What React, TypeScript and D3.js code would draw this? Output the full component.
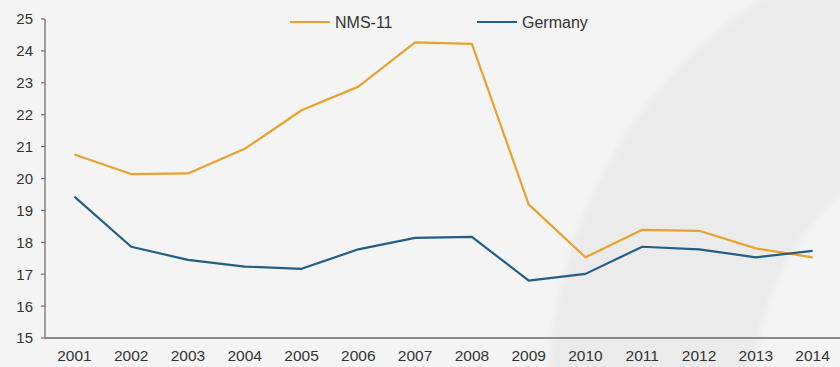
import React from "react";
import * as d3 from "d3";

const years = ["2001","2002","2003","2004","2005","2006","2007","2008","2009","2010","2011","2012","2013","2014"];
const nms11 = [20.75, 20.14, 20.16, 20.93, 22.14, 22.88, 24.27, 24.22, 19.19, 17.53, 18.39, 18.36, 17.81, 17.53];
const germany = [19.43, 17.86, 17.45, 17.24, 17.17, 17.78, 18.14, 18.17, 16.8, 17.01, 17.86, 17.78, 17.53, 17.73];
const yTicks = [15, 16, 17, 18, 19, 20, 21, 22, 23, 24, 25];
const seriesNames = ["NMS-11", "Germany"];

const W = 840, H = 367;
const ORANGE = "#E9A22F";
const BLUE = "#235E86";
const FONT = "'Liberation Sans', Arial, sans-serif";

export default function App() {
  const x = d3.scalePoint<string>().domain(years).range([46, 841]).padding(0.5);
  const y = d3.scaleLinear().domain([15, 25]).range([338, 19]);
  const line = d3.line<number>().x((_, i) => x(years[i]) as number).y((d) => y(d));
  const series = [
    { name: seriesNames[0], values: nms11, color: ORANGE },
    { name: seriesNames[1], values: germany, color: BLUE },
  ];
  const ring = d3.arc()({ innerRadius: 267, outerRadius: 471, startAngle: 0, endAngle: Math.PI * 2 }) as string;
  const legend = [
    { name: seriesNames[0], color: ORANGE, x0: 290 },
    { name: seriesNames[1], color: BLUE, x0: 477 },
  ];
  return (
    <div style={{ position: "fixed", left: 0, top: 0 }}>
      <svg width={W} height={H} style={{ display: "block" }} fontFamily={FONT}>
        <defs>
          <filter id="blur" x="-10%" y="-10%" width="120%" height="120%">
            <feGaussianBlur stdDeviation="3" />
          </filter>
        </defs>
        <rect width={W} height={H} fill="#f4f4f4" />
        <path d={ring} transform="translate(1020,392)" fill="#ebebeb" filter="url(#blur)" />
        {/* left axis */}
        <line x1={45} x2={45} y1={y(25)} y2={339} stroke="#6f6f6f" strokeWidth={1.3} />
        {yTicks.map((t) => (
          <g key={t}>
            <line x1={41} x2={45} y1={y(t)} y2={y(t)} stroke="#6f6f6f" strokeWidth={1.2} />
            <text x={33} y={y(t)} dy="0.36em" textAnchor="end" fontSize={15} fill="#333">{t}</text>
          </g>
        ))}
        {/* bottom axis */}
        <line x1={45} x2={W} y1={338} y2={338} stroke="#8a8a8a" strokeWidth={2} />
        {years.map((yr) => (
          <text key={yr} x={x(yr)} y={361} textAnchor="middle" fontSize={15.5} fill="#333">{yr}</text>
        ))}
        {series.map((s) => (
          <path key={s.name} d={line(s.values) as string} fill="none" stroke={s.color} strokeWidth={2.2} strokeLinejoin="round" />
        ))}
        {legend.map((l) => (
          <g key={l.name}>
            <line x1={l.x0} x2={l.x0 + 40} y1={22} y2={22} stroke={l.color} strokeWidth={2.2} />
            <text x={l.x0 + 45} y={22} dy="0.36em" fontSize={16} fill="#333">{l.name}</text>
          </g>
        ))}
      </svg>
    </div>
  );
}
